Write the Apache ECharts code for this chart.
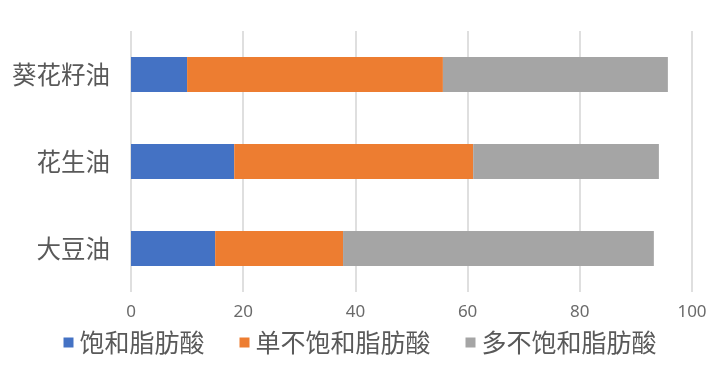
<!DOCTYPE html>
<html>
<head>
<meta charset="utf-8">
<script src="https://cdn.jsdelivr.net/npm/echarts@6/dist/echarts.min.js"></script>
<style>html,body{margin:0;padding:0;background:#fff}#c{width:720px;height:373px}</style>
</head>
<body>
<div id="c"></div>
<script>
const categories = ['大豆油', '花生油', '葵花籽油'];
const seriesNames = ['饱和脂肪酸', '单不饱和脂肪酸', '多不饱和脂肪酸'];
const saturated = [15.0, 18.4, 10.0];
const monounsaturated = [22.8, 42.6, 45.6];
const polyunsaturated = [55.4, 33.1, 40.1];
const xTicks = [0, 20, 40, 60, 80, 100];

const colors = ['#4472C4', '#ED7D31', '#A5A5A5'];
const font = '"Noto Sans CJK SC", "Noto Sans", sans-serif';
const chart = echarts.init(document.getElementById('c'), null, {renderer: 'canvas'});
const dataSets = [saturated, monounsaturated, polyunsaturated];
chart.setOption({
  animation: false,
  textStyle: {fontFamily: font},
  grid: {left: 131, right: 28, top: 31, bottom: 81, containLabel: false},
  legend: {
    bottom: 13,
    left: 'center',
    itemWidth: 10,
    itemHeight: 10,
    itemGap: 35,
    icon: 'rect',
    textStyle: {fontSize: 25, color: '#595959', fontFamily: font, padding: [0, 0, 0, 1]},
    data: seriesNames
  },
  xAxis: {
    type: 'value',
    min: xTicks[0],
    max: xTicks[xTicks.length - 1],
    interval: 20,
    axisLine: {show: false},
    axisTick: {show: false},
    axisLabel: {fontSize: 17, color: '#6a6a6a', margin: 12, fontFamily: 'Noto Sans, sans-serif'},
    splitLine: {show: true, lineStyle: {color: '#D4D4D4', width: 1.5}}
  },
  yAxis: {
    type: 'category',
    data: categories,
    axisLine: {show: false},
    axisTick: {show: false},
    axisLabel: {fontSize: 24.5, color: '#595959', margin: 21, fontFamily: font}
  },
  series: dataSets.map((d, i) => ({
    name: seriesNames[i],
    type: 'bar',
    stack: 'total',
    data: d,
    barWidth: '40%',
    itemStyle: {color: colors[i]}
  }))
});
</script>
</body>
</html>
